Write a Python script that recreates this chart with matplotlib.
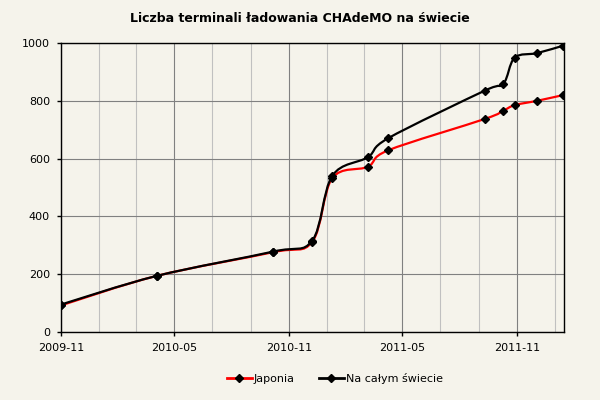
import matplotlib
matplotlib.use("Agg")
import matplotlib.pyplot as plt
import matplotlib.dates as mdates
from matplotlib.path import Path
from matplotlib.patches import PathPatch
from matplotlib.lines import Line2D
import numpy as np
import datetime as dt

dates = ["2009-11-01", "2010-04-03", "2010-10-06", "2010-12-08", "2011-01-09",
         "2011-03-07", "2011-04-09", "2011-09-10", "2011-10-10", "2011-10-28",
         "2011-12-03", "2012-01-14"]
japonia = [92, 194, 276, 312, 532, 572, 629, 737, 766, 785, 800, 820]
swiat = [95, 194, 278, 316, 540, 605, 671, 835, 859, 949, 965, 991]
series_names = ["Japonia", "Na całym świecie"]
title = "Liczba terminali ładowania CHAdeMO na świecie"

BG = "#F5F3EB"
x = mdates.date2num([dt.datetime.strptime(d, "%Y-%m-%d") for d in dates])

fig = plt.figure(figsize=(6, 4), dpi=100, facecolor=BG)
ax = fig.add_axes([61/600, 1-332/400, (564-61)/600, (332-43)/400])
ax.set_facecolor(BG)


def smooth_path(xs, ys):
    P = np.column_stack([xs, ys])
    n = len(P)
    verts = [P[0]]
    codes = [Path.MOVETO]
    for i in range(n - 1):
        p0 = P[i - 1] if i > 0 else P[i]
        p1 = P[i]
        p2 = P[i + 1]
        p3 = P[i + 2] if i + 2 < n else P[i + 1]
        c1 = p1 + (p2 - p0) / 6.0
        c2 = p2 - (p3 - p1) / 6.0
        verts += [c1, c2, p2]
        codes += [Path.CURVE4] * 3
    return Path(verts, codes)


for ys, col in [(japonia, "#FF0000"), (swiat, "#000000")]:
    patch = PathPatch(smooth_path(x, ys), fill=False, edgecolor=col, lw=1.6,
                      zorder=3, capstyle="round", joinstyle="round")
    ax.add_patch(patch)
    ax.plot(x, ys, ls="none", marker="D", ms=4.5, color="black", zorder=4)

ax.set_xlim(x[0], mdates.date2num(dt.datetime(2012, 1, 15)))
ax.set_ylim(0, 1000)
ax.set_yticks(range(0, 1001, 200))
ax.xaxis.set_major_locator(mdates.MonthLocator(bymonth=[5, 11]))
ax.xaxis.set_minor_locator(mdates.MonthLocator(bymonth=[1, 3, 7, 9]))
ax.xaxis.set_major_formatter(mdates.DateFormatter("%Y-%m"))

ax.grid(which="major", color="#808080", lw=0.8, zorder=1)
ax.grid(which="minor", axis="x", color="#C0C0C0", lw=0.8, zorder=1)
ax.set_axisbelow(True)
for s in ax.spines.values():
    s.set_color("black")
    s.set_linewidth(1.0)
ax.tick_params(which="major", length=3, width=1, direction="out",
               labelsize=8, pad=5, color="black")
ax.tick_params(which="minor", length=0)

fig.text(0.5, 1-19/400, title, ha="center", va="center",
         fontsize=9, fontweight="bold")

handles = [Line2D([], [], color="#FF0000", lw=2, marker="D", ms=4.5,
                  markerfacecolor="black", markeredgecolor="black"),
           Line2D([], [], color="black", lw=2, marker="D", ms=4.5)]
fig.legend(handles, series_names, loc="center", bbox_to_anchor=(335/600, 1-378/400),
           ncol=2, frameon=False, fontsize=8, handlelength=2.2,
           handletextpad=0.2, columnspacing=2.2)

fig.savefig("out.png", dpi=100, facecolor=BG)
